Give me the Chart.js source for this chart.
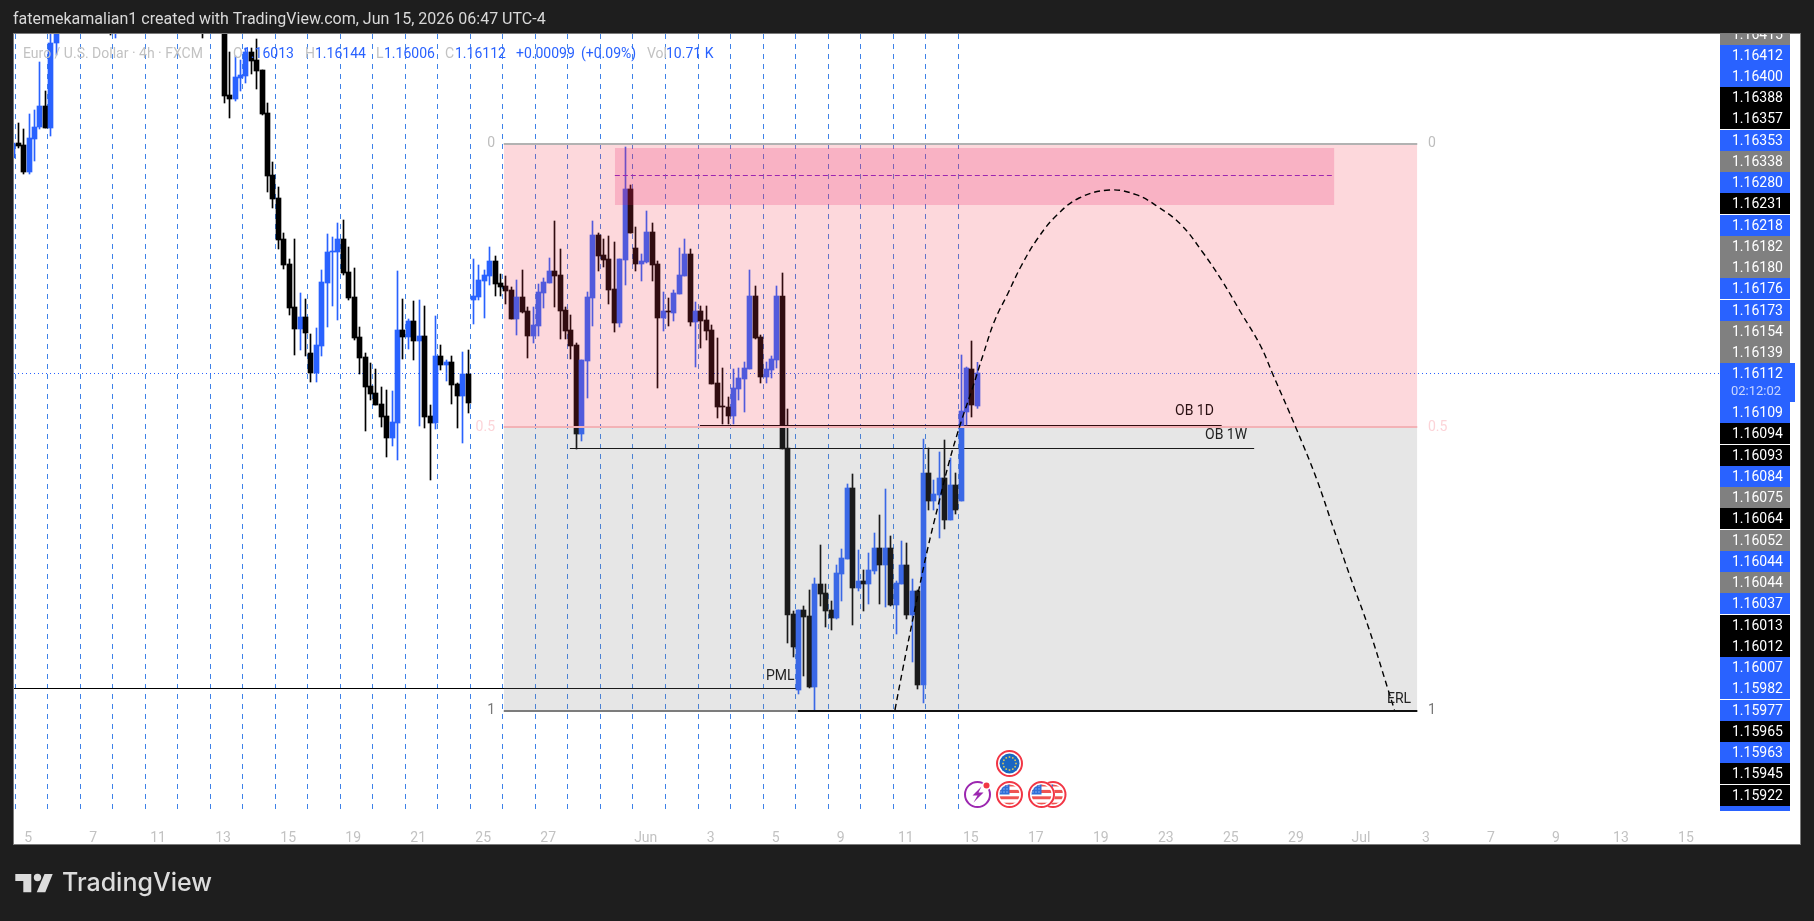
<!DOCTYPE html>
<html>
<head>
<meta charset="utf-8">
<title>EUR/USD 4h</title>
<style>
  html, body { margin: 0; background: #1e1e1e; }
  canvas { display: block; }
</style>
<script src="https://cdn.jsdelivr.net/npm/chart.js@4/dist/chart.umd.min.js"></script>
</head>
<body>
<canvas id="fxChart" width="1814" height="921"></canvas>
<script>
// 4h candles, oldest first. null = bar sits entirely above the visible range
const opens = [
  1.16757,1.16802,1.16796,1.16715,1.16814,1.16850,1.16913,1.16847,1.17102,null,
  null,null,null,null,null,null,null,null,1.17207,1.17171,
  null,null,null,null,null,null,null,null,null,null,
  null,null,null,null,null,1.17201,null,null,null,1.17171,
  1.16946,1.16934,1.16997,1.17003,1.17075,1.17051,1.17021,1.16892,1.16706,1.16637,
  1.16514,1.16439,1.16310,1.16244,1.16280,1.16172,1.16112,1.16193,1.16382,1.16475,
  1.16475,1.16514,1.16415,1.16340,1.16220,1.16160,1.16073,1.16052,1.16019,1.15983,
  1.15917,1.15962,1.16241,1.16220,1.16268,1.16208,1.16223,1.15983,1.15962,1.16163,
  1.16136,1.16145,1.16079,1.16043,1.16109,1.16331,1.16340,1.16388,1.16403,1.16448,
  1.16382,1.16373,1.16361,1.16274,1.16340,1.16298,1.16223,1.16253,1.16352,1.16382,
  1.16418,1.16406,1.16301,1.16241,1.16196,1.15929,1.16148,1.16337,1.16526,1.16466,
  1.16454,1.16364,1.16262,1.16451,1.16664,1.16487,1.16439,1.16445,1.16535,1.16439,
  1.16277,1.16298,1.16292,1.16349,1.16403,1.16469,1.16265,1.16298,1.16271,1.16241,
  1.16082,1.16013,1.16010,1.15983,1.16064,1.16094,1.16124,1.16343,1.16220,1.16100,
  1.16121,1.16151,1.16343,1.15887,1.15389,1.15161,1.15401,1.15383,1.15170,1.15479,
  1.15452,1.15401,1.15377,1.15509,1.15554,1.15767,1.15467,1.15488,1.15479,1.15518,
  1.15587,1.15536,1.15587,1.15416,1.15479,1.15536,1.15386,1.15458,1.15176,1.15812,
  1.15728,1.15746,1.15797,1.15671,1.15776,1.15728,1.15995,1.16124,1.16013
];
const highs = [
  1.16811,1.16862,1.16844,1.16889,1.16901,1.17045,1.16958,1.17156,1.17216,null,
  null,null,null,null,null,null,null,null,1.17225,1.17225,
  null,null,null,null,null,null,null,null,null,null,
  null,null,null,null,null,1.17222,null,null,null,1.17201,
  1.17075,1.17063,1.17051,1.17087,1.17087,1.17114,1.17021,1.16922,1.16745,1.16670,
  1.16532,1.16454,1.16514,1.16352,1.16334,1.16229,1.16247,1.16421,1.16529,1.16520,
  1.16562,1.16571,1.16490,1.16427,1.16250,1.16172,1.16142,1.16124,1.16070,1.16061,
  1.16058,1.16418,1.16334,1.16274,1.16328,1.16331,1.16313,1.16016,1.16283,1.16196,
  1.16151,1.16163,1.16082,1.16175,1.16181,1.16454,1.16436,1.16421,1.16490,1.16463,
  1.16409,1.16403,1.16370,1.16391,1.16421,1.16310,1.16310,1.16379,1.16397,1.16457,
  1.16568,1.16484,1.16310,1.16286,1.16202,1.16151,1.16355,1.16568,1.16532,1.16514,
  1.16523,1.16505,1.16454,1.16790,1.16676,1.16550,1.16469,1.16598,1.16562,1.16448,
  1.16355,1.16337,1.16361,1.16487,1.16514,1.16484,1.16325,1.16313,1.16313,1.16256,
  1.16217,1.16127,1.16040,1.16124,1.16127,1.16145,1.16421,1.16373,1.16226,1.16145,
  1.16163,1.16373,1.16412,1.16004,1.15398,1.15401,1.15413,1.15461,1.15497,1.15596,
  1.15479,1.15428,1.15536,1.15584,1.15779,1.15809,1.15581,1.15521,1.15572,1.15632,
  1.15686,1.15764,1.15623,1.15488,1.15608,1.15602,1.15494,1.15461,1.15914,1.15887,
  1.15791,1.15875,1.15911,1.15857,1.15812,1.16166,1.16130,1.16208,1.16144
];
const lows = [
  1.16751,1.16787,1.16709,1.16709,1.16748,1.16844,1.16847,1.16823,1.17066,null,
  null,null,null,null,null,null,null,null,1.17126,1.17117,
  null,null,null,null,null,null,null,null,null,null,
  null,null,null,null,null,1.17117,null,null,null,1.16922,
  1.16877,1.16928,1.16958,1.16982,1.17009,1.16964,1.16886,1.16655,1.16607,1.16484,
  1.16424,1.16286,1.16166,1.16181,1.16163,1.16085,1.16085,1.16163,1.16250,1.16313,
  1.16271,1.16406,1.16331,1.16211,1.16109,1.15938,1.16031,1.16016,1.15950,1.15860,
  1.15893,1.15851,1.16154,1.16184,1.16151,1.15953,1.15947,1.15791,1.15944,1.16121,
  1.16088,1.16019,1.15947,1.15902,1.15992,1.16259,1.16331,1.16277,1.16376,1.16343,
  1.16343,1.16319,1.16274,1.16226,1.16292,1.16157,1.16202,1.16223,1.16307,1.16382,
  1.16310,1.16214,1.16214,1.16154,1.15884,1.15908,1.16037,1.16253,1.16418,1.16430,
  1.16319,1.16235,1.16250,1.16376,1.16532,1.16418,1.16388,1.16442,1.16388,1.16067,
  1.16238,1.16253,1.16268,1.16349,1.16403,1.16253,1.16130,1.16187,1.16211,1.16079,
  1.15977,1.15959,1.15959,1.15959,1.16031,1.15995,1.16124,1.16214,1.16082,1.16082,
  1.16097,1.16127,1.15884,1.15302,1.15260,1.15149,1.15203,1.15167,1.15098,1.15413,
  1.15350,1.15341,1.15374,1.15428,1.15554,1.15356,1.15458,1.15398,1.15419,1.15509,
  1.15419,1.15410,1.15413,1.15329,1.15479,1.15374,1.15245,1.15164,1.15122,1.15701,
  1.15701,1.15617,1.15644,1.15671,1.15689,1.15728,1.15956,1.15980,1.16006
];
const closes = [
  1.16802,1.16793,1.16715,1.16817,1.16850,1.16913,1.16847,1.17102,1.17201,null,
  null,null,null,null,null,null,null,null,1.17171,1.17201,
  null,null,null,null,null,null,null,null,null,null,
  null,null,null,null,null,1.17165,null,null,null,1.16943,
  1.16934,1.17000,1.17006,1.17075,1.17048,1.17018,1.16889,1.16703,1.16634,1.16511,
  1.16436,1.16307,1.16244,1.16280,1.16232,1.16112,1.16196,1.16385,1.16475,1.16478,
  1.16514,1.16412,1.16337,1.16217,1.16157,1.16070,1.16049,1.16016,1.15980,1.15917,
  1.15965,1.16241,1.16220,1.16268,1.16208,1.16223,1.15980,1.15962,1.16163,1.16136,
  1.16145,1.16076,1.16043,1.16109,1.16022,1.16343,1.16391,1.16406,1.16448,1.16379,
  1.16370,1.16358,1.16274,1.16340,1.16295,1.16223,1.16256,1.16355,1.16385,1.16418,
  1.16403,1.16298,1.16238,1.16193,1.15929,1.16151,1.16340,1.16526,1.16463,1.16451,
  1.16361,1.16262,1.16454,1.16664,1.16532,1.16439,1.16448,1.16535,1.16436,1.16277,
  1.16298,1.16295,1.16352,1.16406,1.16469,1.16265,1.16298,1.16268,1.16238,1.16079,
  1.16010,1.16010,1.15983,1.16067,1.16097,1.16127,1.16343,1.16217,1.16100,1.16124,
  1.16154,1.16343,1.15884,1.15386,1.15290,1.15401,1.15380,1.15170,1.15479,1.15449,
  1.15398,1.15377,1.15512,1.15557,1.15767,1.15467,1.15488,1.15479,1.15521,1.15587,
  1.15536,1.15587,1.15416,1.15482,1.15536,1.15386,1.15458,1.15176,1.15812,1.15728,
  1.15749,1.15797,1.15671,1.15776,1.15701,1.15998,1.16127,1.16016,1.16112
];

// date axis, positions are in bar numbers
const dateLabels = ['5','7','11','13','15','19','21','25','27','Jun','3','5','9','11','15','17','19','23','25','29','Jul','3','7','9','13','15'];
const dateTicks = [2.8,14.8,26.8,38.8,50.8,62.8,74.8,86.8,98.8,116.8,128.8,140.8,152.8,164.8,176.8,188.8,200.8,212.8,224.8,236.8,248.8,260.8,272.8,284.8,296.8,308.8];

// dashed session lines
const sessionLines = [0.45,6.45,12.45,18.45,24.45,30.45,36.45,42.45,48.45,54.45,60.45,66.45,72.45,78.45,84.45,90.45,96.45,102.45,108.45,114.45,120.45,126.45,132.45,138.45,144.45,150.45,156.45,162.45,168.45,174.45];

// drawn projection path
const pathBars = [162.8,164.2,166.3,168.7,170.8,172.9,175.0,177.0,179.1,181.2,183.6,186.1,189.2,192.7,196.8,202.4,207.3,211.4,215.6,219.7,223.2,226.7,230.2,232.6,236.8,240.6,243.7,246.8,250.3,253.8,255.0];
const pathPrices = [1.15101,1.15220,1.15389,1.15575,1.15716,1.15851,1.15965,1.16061,1.16168,1.16269,1.16349,1.16433,1.16517,1.16586,1.16637,1.16661,1.16647,1.16610,1.16557,1.16472,1.16388,1.16292,1.16196,1.16106,1.15948,1.15795,1.15648,1.15502,1.15344,1.15163,1.15101];

// right-hand price tags, top to bottom
const tagPrices = ['1.16415','1.16412','1.16400','1.16388','1.16357','1.16353','1.16338','1.16280','1.16231','1.16218','1.16182','1.16180','1.16176','1.16173','1.16154','1.16139','1.16112','1.16109','1.16094','1.16093','1.16084','1.16075','1.16064','1.16052','1.16044','1.16044','1.16037','1.16013','1.16012','1.16007','1.15982','1.15977','1.15965','1.15963','1.15945','1.15922'];
const tagKinds = ['g','b','b','k','k','b','g','b','k','b','g','g','b','b','g','g','b','b','k','k','b','g','k','g','b','g','b','k','k','b','b','b','k','b','k','k'];

// levels of the position tool and the marked zones
const fibZero = 1.16799, fibHalf = 1.15950, fibOne = 1.15098;
const supplyTop = 1.16787, supplyBottom = 1.16616, supplyMid = 1.16703;
const ob1d = 1.15956, ob1w = 1.15884, pml = 1.15164;
const lastClose = 1.16112;

const BLUE = '#2962ff';
const FONT = 'Roboto, sans-serif';
const TICK_GREY = '#c2c2c2';
const priceMin = 1.14804, priceMax = 1.17129;
const barMin = 0.203, barMax = 315.08;
const fibLeft = 90.6, fibRight = 259.2;

const bodies = [], wicks = [], candleColors = [];
opens.forEach((o, i) => {
  if (o === null) return;
  bodies.push({ x: i, y: [o, closes[i]] });
  wicks.push({ x: i, y: [lows[i], highs[i]] });
  candleColors.push(closes[i] >= o ? BLUE : '#000000');
});

const sessionPoints = [];
sessionLines.forEach(b => {
  sessionPoints.push({ x: b, y: priceMin }, { x: b, y: priceMax }, { x: b, y: null });
});

function hline(x1, x2, y, color, width, extra) {
  return Object.assign({
    type: 'line',
    data: [{ x: x1, y: y }, { x: x2, y: y }],
    borderColor: color,
    borderWidth: width,
    pointRadius: 0,
    tension: 0
  }, extra);
}

function filled(x1, x2, top, bottom, color, order) {
  return hline(x1, x2, top, 'transparent', 0, { fill: { value: bottom }, backgroundColor: color, order: order });
}

function drawRingedIcon(ctx, x, y, color, inner) {
  ctx.save();
  ctx.fillStyle = '#fff';
  ctx.beginPath(); ctx.arc(x, y, 13.5, 0, Math.PI * 2); ctx.fill();
  ctx.strokeStyle = color; ctx.lineWidth = 2;
  ctx.beginPath(); ctx.arc(x, y, 12.5, 0, Math.PI * 2); ctx.stroke();
  ctx.beginPath(); ctx.arc(x, y, 10, 0, Math.PI * 2); ctx.clip();
  inner();
  ctx.restore();
}

function drawUsFlag(ctx, x, y) {
  drawRingedIcon(ctx, x, y, '#f23645', () => {
    for (let k = 0; k < 7; k++) {
      ctx.fillStyle = k % 2 ? '#fff' : '#ef5350';
      ctx.fillRect(x - 11, y - 11 + k * 3.2, 22, 3.2);
    }
    ctx.fillStyle = '#2e6fd8';
    ctx.fillRect(x - 11, y - 11, 11, 11);
    ctx.fillStyle = '#cfe0ff';
    for (let a = 0; a < 3; a++) for (let c = 0; c < 3; c++) ctx.fillRect(x - 9 + c * 3, y - 9 + a * 3, 1, 1);
  });
}

function drawEuFlag(ctx, x, y) {
  drawRingedIcon(ctx, x, y, '#f23645', () => {
    ctx.fillStyle = '#1a66c2';
    ctx.fillRect(x - 11, y - 11, 22, 22);
    ctx.fillStyle = '#d9c95a';
    for (let k = 0; k < 12; k++) {
      const a = k * Math.PI / 6;
      ctx.fillRect(x + Math.cos(a) * 6.5 - 0.8, y + Math.sin(a) * 6.5 - 0.8, 1.6, 1.6);
    }
  });
}

function drawBolt(ctx, x, y) {
  ctx.save();
  ctx.strokeStyle = '#9c27b0'; ctx.lineWidth = 2;
  ctx.beginPath(); ctx.arc(x, y, 12.5, 0, Math.PI * 2); ctx.stroke();
  ctx.fillStyle = '#9c27b0';
  ctx.beginPath();
  ctx.moveTo(x + 4, y - 8); ctx.lineTo(x - 5, y + 1); ctx.lineTo(x, y + 1);
  ctx.lineTo(x - 4, y + 8); ctx.lineTo(x + 6, y - 2); ctx.lineTo(x + 1, y - 2);
  ctx.closePath(); ctx.fill();
  ctx.fillStyle = '#fff';
  ctx.beginPath(); ctx.arc(x + 9, y - 9, 4.5, 0, Math.PI * 2); ctx.fill();
  ctx.fillStyle = '#f23645';
  ctx.beginPath(); ctx.arc(x + 9, y - 9, 3, 0, Math.PI * 2); ctx.fill();
  ctx.restore();
}

function drawLogo(ctx) {
  ctx.fillStyle = '#dcdcdc';
  ctx.beginPath();
  ctx.moveTo(15.3, 874); ctx.lineTo(31.3, 874); ctx.lineTo(31.3, 892.3); ctx.lineTo(23.3, 892.3);
  ctx.lineTo(23.3, 881); ctx.lineTo(15.3, 881); ctx.closePath(); ctx.fill();
  ctx.beginPath(); ctx.arc(37.5, 877.5, 3.7, 0, Math.PI * 2); ctx.fill();
  ctx.beginPath();
  ctx.moveTo(44.5, 874); ctx.lineTo(52.7, 874); ctx.lineTo(45.3, 892.3); ctx.lineTo(36.7, 892.3);
  ctx.closePath(); ctx.fill();
  ctx.font = '500 25px Inter, sans-serif';
  ctx.textBaseline = 'middle';
  ctx.textAlign = 'left';
  ctx.fillText('TradingView', 62, 883);
}

const text = (ctx, str, x, y, color, font, align) => {
  ctx.font = font;
  ctx.fillStyle = color;
  ctx.textAlign = align || 'left';
  ctx.textBaseline = 'middle';
  ctx.fillText(str, x, y);
};

// tops of the stacked price tags
const tagTops = [24,45,66,87,108,130,151,172,193,215,236,257,278,300,321,342,363,402,423,445,466,487,508,530,551,572,593,615,636,657,678,700,721,742,763,785];

const tvFrame = {
  id: 'tvFrame',
  beforeDraw(chart) {
    const ctx = chart.ctx;
    ctx.save();
    ctx.fillStyle = '#1e1e1e';
    ctx.fillRect(0, 0, chart.width, chart.height);
    ctx.fillStyle = '#7b7b7b';
    ctx.fillRect(13, 33, 1788, 812);
    ctx.fillStyle = '#fff';
    ctx.fillRect(14, 34, 1786, 810);
    ctx.restore();
  },
  // keep candles and thin lines on whole device pixels
  beforeDatasetsDraw(chart) {
    chart.getSortedVisibleDatasetMetas().forEach(meta => {
      const ds = chart.data.datasets[meta.index];
      meta.data.forEach(el => {
        if (meta.type === 'bar' || ds.snapX) el.x = Math.floor(el.x) + 0.5;
        if (ds.snapY) el.y = Math.floor(el.y) + 0.5;
      });
    });
  },
  afterDraw(chart) {
    const ctx = chart.ctx;
    const f14 = '14px ' + FONT;
    ctx.save();

    // legend line
    const lg = f14;
    text(ctx, 'Euro / U.S. Dollar · 4h · FXCM', 23, 54, TICK_GREY, lg);
    [['O', 233], ['H', 305], ['L', 376], ['C', 445]].forEach(p => text(ctx, p[0], p[1], 54, TICK_GREY, lg));
    [['1.16013', 243], ['1.16144', 315], ['1.16006', 384], ['1.16112', 455], ['+0.00099', 516], ['(+0.09%)', 581], ['10.71 K', 666]]
      .forEach(p => text(ctx, p[0], p[1], 54, BLUE, lg));
    text(ctx, 'Vol', 647, 54, TICK_GREY, lg);

    // level captions
    text(ctx, '0', 495, 143, '#bdbdbd', f14, 'right');
    text(ctx, '0.5', 495, 427, '#fcd4d8', f14, 'right');
    text(ctx, '1', 495, 710, '#777', f14, 'right');
    text(ctx, '0', 1428, 143, '#bdbdbd', f14);
    text(ctx, '0.5', 1428, 427, '#fcd4d8', f14);
    text(ctx, '1', 1428, 710, '#777', f14);
    text(ctx, 'OB 1D', 1175, 411, '#2a1012', f14);
    text(ctx, 'OB 1W', 1205, 435, '#222', f14);
    text(ctx, 'PML', 766, 676, '#222', f14);
    text(ctx, 'ERL', 1387, 699, '#222', f14);

    // price tags
    const tagColor = { b: BLUE, k: '#000', g: '#808080' };
    ctx.beginPath(); ctx.rect(1720, 34, 80, 810); ctx.clip();
    tagPrices.forEach((p, i) => {
      const top = tagTops[i];
      const last = p === lastClose.toFixed(5);
      ctx.fillStyle = tagColor[tagKinds[i]];
      ctx.fillRect(1720, top, last ? 75 : 70, last ? 39 : 21);
      text(ctx, p, 1732, top + 11, '#fff', f14);
      if (last) text(ctx, '02:12:02', 1731, top + 29, '#c9d6ff', '13px ' + FONT);
    });
    ctx.fillStyle = BLUE;
    ctx.fillRect(1720, 806, 70, 5);
    ctx.restore();

    ctx.save();
    // economic events row
    drawEuFlag(ctx, 1009.5, 763.5);
    drawBolt(ctx, 977.5, 794.5);
    drawUsFlag(ctx, 1009.5, 794.5);
    drawUsFlag(ctx, 1053, 794.5);
    drawUsFlag(ctx, 1041.5, 794.5);

    text(ctx, 'fatemekamalian1 created with TradingView.com, Jun 15, 2026 06:47 UTC-4', 13, 20, '#d9d9d9', '16px ' + FONT);
    drawLogo(ctx);
    ctx.restore();
  }
};

new Chart(document.getElementById('fxChart'), {
  type: 'bar',
  data: {
    datasets: [
      // session lines under everything
      {
        type: 'line', data: sessionPoints, borderColor: '#3f82e8', borderWidth: 1, borderDash: [5, 5],
        pointRadius: 0, spanGaps: false, tension: 0, order: 60, snapX: true
      },
      hline(barMin, barMax, lastClose, BLUE, 1, { borderDash: [1, 3], order: 55, snapY: true }),
      hline(barMin, 144.9, pml, '#000', 1, { order: 54, snapY: true }),
      hline(102.8, 229.1, ob1w, '#000', 1, { order: 53, snapY: true }),
      hline(126.8, 223.1, ob1d, '#000', 1, { order: 52, snapY: true }),
      { type: 'bar', data: wicks, backgroundColor: candleColors, barThickness: 1, grouped: false, order: 51 },
      { type: 'bar', data: bodies, backgroundColor: candleColors, barThickness: 5, grouped: false, minBarLength: 1, order: 50 },
      // position tool shades sit over the candles
      filled(fibLeft, fibRight, fibZero, fibHalf, 'rgba(247,59,80,0.2)', 40),
      filled(fibLeft, fibRight, fibHalf, fibOne, 'rgba(130,130,130,0.2)', 39),
      hline(fibLeft, fibRight, fibZero, '#b2b2b2', 2, { order: 38 }),
      hline(fibLeft, fibRight, fibHalf, '#f3b2b6', 2, { order: 37 }),
      hline(fibLeft, fibRight, fibOne, '#7c7c7c', 2, { order: 36 }),
      hline(144.9, fibRight, fibOne, '#111', 2, { order: 35 }),
      filled(111.1, 243.9, supplyTop, supplyBottom, 'rgba(233,30,99,0.2)', 30),
      hline(111.1, 243.9, supplyMid, '#9c27b0', 1, { borderDash: [5, 3], order: 29, snapY: true }),
      {
        type: 'line', data: pathBars.map((b, i) => ({ x: b, y: pathPrices[i] })), borderColor: '#000', borderWidth: 1.4,
        borderDash: [6, 4], pointRadius: 0, tension: 0.4, order: 20
      }
    ]
  },
  options: {
    responsive: false,
    animation: false,
    layout: { padding: { top: 34, left: 14, right: 94, bottom: 77 } },
    plugins: { legend: { display: false }, tooltip: { enabled: false } },
    scales: {
      x: {
        type: 'linear',
        min: barMin,
        max: barMax,
        offset: false,
        grid: { display: false },
        border: { display: false },
        afterBuildTicks: axis => { axis.ticks = dateTicks.map(v => ({ value: v })); },
        afterFit: axis => { axis.height = 35; },
        ticks: {
          autoSkip: false,
          maxRotation: 0,
          padding: 13,
          color: TICK_GREY,
          font: { family: FONT, size: 14 },
          callback: v => dateLabels[dateTicks.indexOf(v)]
        }
      },
      y: { type: 'linear', display: false, min: priceMin, max: priceMax }
    }
  },
  plugins: [tvFrame]
});
</script>
</body>
</html>
